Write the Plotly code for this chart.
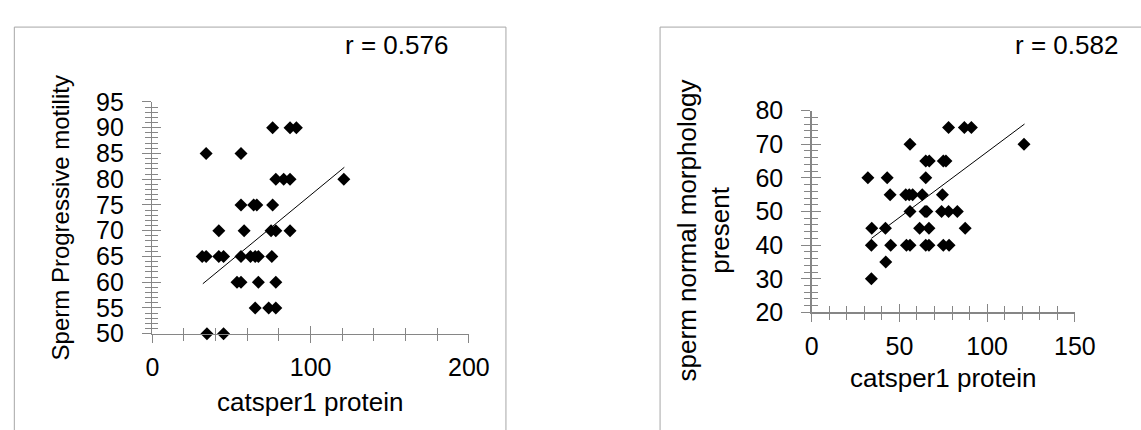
import plotly.graph_objects as go

W, H = 1141, 430

# ---------------- data ----------------
left_x = [76, 87, 91,
          34, 56,
          78, 83, 87, 121,
          56, 64, 66, 76,
          42, 58, 75, 78, 87,
          31.5, 34, 42, 45, 56, 62, 65, 67, 75.5,
          53.5, 56, 67, 78,
          65, 73.5, 78,
          34.5, 45]
left_y = [90, 90, 90,
          85, 85,
          80, 80, 80, 80,
          75, 75, 75, 75,
          70, 70, 70, 70, 70,
          65, 65, 65, 65, 65, 65, 65, 65, 65,
          60, 60, 60, 60,
          55, 55, 55,
          50, 50]
left_trend_x = [31.9, 121.3]
left_trend_y = [59.7, 82.3]
left_r = "r = 0.576"

right_x = [78, 87, 91,
           56, 121,
           65, 67, 75, 76.5,
           32, 43, 65,
           44.7, 53.6, 55.6, 57.5, 63, 74.5,
           56, 64.6, 65.6, 74, 78, 83,
           34.2, 42, 61.5, 66.8, 87.5,
           34, 45, 54, 56, 65, 66.8, 75, 78.3,
           42.2,
           34]
right_y = [75, 75, 75,
           70, 70,
           65, 65, 65, 65,
           60, 60, 60,
           55, 55, 55, 55, 55, 55,
           50, 50, 50, 50, 50, 50,
           45, 45, 45, 45, 45,
           40, 40, 40, 40, 40, 40, 40, 40,
           35,
           30]
right_trend_x = [34, 121.3]
right_trend_y = [42, 76]
right_r = "r = 0.582"

x_title = "catsper1 protein"
left_y_title = "Sperm Progressive motility"
right_y_title = "sperm normal morphology<br>present"

left_xrange, left_yrange = [0, 200], [50, 95]
right_xrange, right_yrange = [0, 150], [20, 80]

# ---------------- styling ----------------
FONT = "Liberation Sans, Arial, sans-serif"
AX = "#868686"
TICKF = 25

def px(x):
    return x / W

def py(y):
    return 1 - y / H

fig = go.Figure()

marker = dict(symbol="diamond", size=10, color="black", line=dict(width=0))

fig.add_trace(go.Scatter(x=left_x, y=left_y, mode="markers", marker=marker,
                         xaxis="x", yaxis="y", cliponaxis=False, showlegend=False))
fig.add_trace(go.Scatter(x=left_trend_x, y=left_trend_y, mode="lines",
                         line=dict(color="black", width=1),
                         xaxis="x", yaxis="y", showlegend=False))
fig.add_trace(go.Scatter(x=right_x, y=right_y, mode="markers", marker=marker,
                         xaxis="x2", yaxis="y2", cliponaxis=False, showlegend=False))
fig.add_trace(go.Scatter(x=right_trend_x, y=right_trend_y, mode="lines",
                         line=dict(color="black", width=1),
                         xaxis="x2", yaxis="y2", showlegend=False))
# invisible traces for the overlay axes that draw the inner half of cross ticks
fig.add_trace(go.Scatter(x=[None], y=[None], xaxis="x3", yaxis="y3",
                         showlegend=False, hoverinfo="skip"))
fig.add_trace(go.Scatter(x=[None], y=[None], xaxis="x4", yaxis="y4",
                         showlegend=False, hoverinfo="skip"))

L_xdom = [px(149), px(473.5)]
L_ydom = [py(342), py(94)]
R_xdom = [px(825), px(1094.7)]
R_ydom = [py(319.2), py(103.3)]


def xax(rng, dom, anchor, dtick, mdtick, ticks, labels, overlay=None):
    d = dict(range=rng, domain=dom, anchor=anchor, showgrid=False, zeroline=False,
             dtick=dtick, tick0=0, ticks=ticks, ticklen=8, tickwidth=1, tickcolor=AX,
             minor=dict(dtick=mdtick, tick0=0, ticks=ticks, ticklen=6, tickwidth=1,
                        tickcolor=AX, showgrid=False),
             showticklabels=labels, tickfont=dict(family=FONT, size=TICKF, color="black"),
             showline=labels, linecolor=AX, linewidth=1.5, fixedrange=True,
             ticklabelstandoff=3)
    if overlay:
        d["overlaying"] = overlay
    return d


def yax(rng, dom, anchor, dtick, mdtick, ticks, labels, overlay=None):
    d = dict(range=rng, domain=dom, anchor=anchor, showgrid=False, zeroline=False,
             dtick=dtick, tick0=0, ticks=ticks, ticklen=9, tickwidth=1, tickcolor=AX,
             minor=dict(dtick=mdtick, tick0=0, ticks=ticks, ticklen=6, tickwidth=1,
                        tickcolor=AX, showgrid=False),
             showticklabels=labels, tickfont=dict(family=FONT, size=TICKF, color="black"),
             showline=labels, linecolor=AX, linewidth=1.5, fixedrange=True,
             ticklabelstandoff=13)
    if overlay:
        d["overlaying"] = overlay
    return d


fig.update_layout(
    width=W, height=H,
    margin=dict(l=0, r=0, t=0, b=0),
    paper_bgcolor="white", plot_bgcolor="rgba(0,0,0,0)",
    font=dict(family=FONT, color="black"),
    xaxis=xax(left_xrange, L_xdom, "y", 100, 20, "outside", True),
    yaxis=yax(left_yrange, L_ydom, "x", 5, 1, "outside", True),
    xaxis2=xax(right_xrange, R_xdom, "y2", 50, 10, "outside", True),
    yaxis2=yax(right_yrange, R_ydom, "x2", 10, 2, "outside", True),
    xaxis3=xax(left_xrange, L_xdom, "y3", 100, 20, "inside", False, overlay="x"),
    yaxis3=yax(left_yrange, L_ydom, "x3", 5, 1, "inside", False, overlay="y"),
    xaxis4=xax(right_xrange, R_xdom, "y4", 50, 10, "inside", False, overlay="x2"),
    yaxis4=yax(right_yrange, R_ydom, "x4", 10, 2, "inside", False, overlay="y2"),
    showlegend=False,
)

# chart frames
fig.add_shape(type="rect", xref="paper", yref="paper",
              x0=px(7.5), x1=px(511.5), y0=-0.1, y1=py(14),
              line=dict(color="#a6a6a6", width=1), layer="below")
fig.add_shape(type="rect", xref="paper", yref="paper",
              x0=px(669.5), x1=1.1, y0=-0.1, y1=py(14),
              line=dict(color="#a6a6a6", width=1), layer="below")

ann = dict(xref="paper", yref="paper", showarrow=False,
           xanchor="center", yanchor="middle")
fig.add_annotation(**ann, x=px(399.5), y=py(33), text=left_r,
                   font=dict(family=FONT, size=26, color="black"))
fig.add_annotation(**ann, x=px(1086), y=py(33), text=right_r,
                   font=dict(family=FONT, size=26, color="black"))
fig.add_annotation(**ann, x=px(311), y=py(415), text=x_title,
                   font=dict(family=FONT, size=26, color="black"))
fig.add_annotation(**ann, x=px(960), y=py(389), text=x_title,
                   font=dict(family=FONT, size=26, color="black"))
fig.add_annotation(**ann, x=px(55), y=py(218), text=left_y_title, textangle=-90,
                   font=dict(family=FONT, size=24, color="black"))
fig.add_annotation(**ann, x=px(714), y=py(231), text=right_y_title, textangle=-90,
                   font=dict(family=FONT, size=26, color="black"))

fig.write_html("out.html",
               config={"staticPlot": True, "displayModeBar": False},
               post_script="document.body.style.margin='0px';")
